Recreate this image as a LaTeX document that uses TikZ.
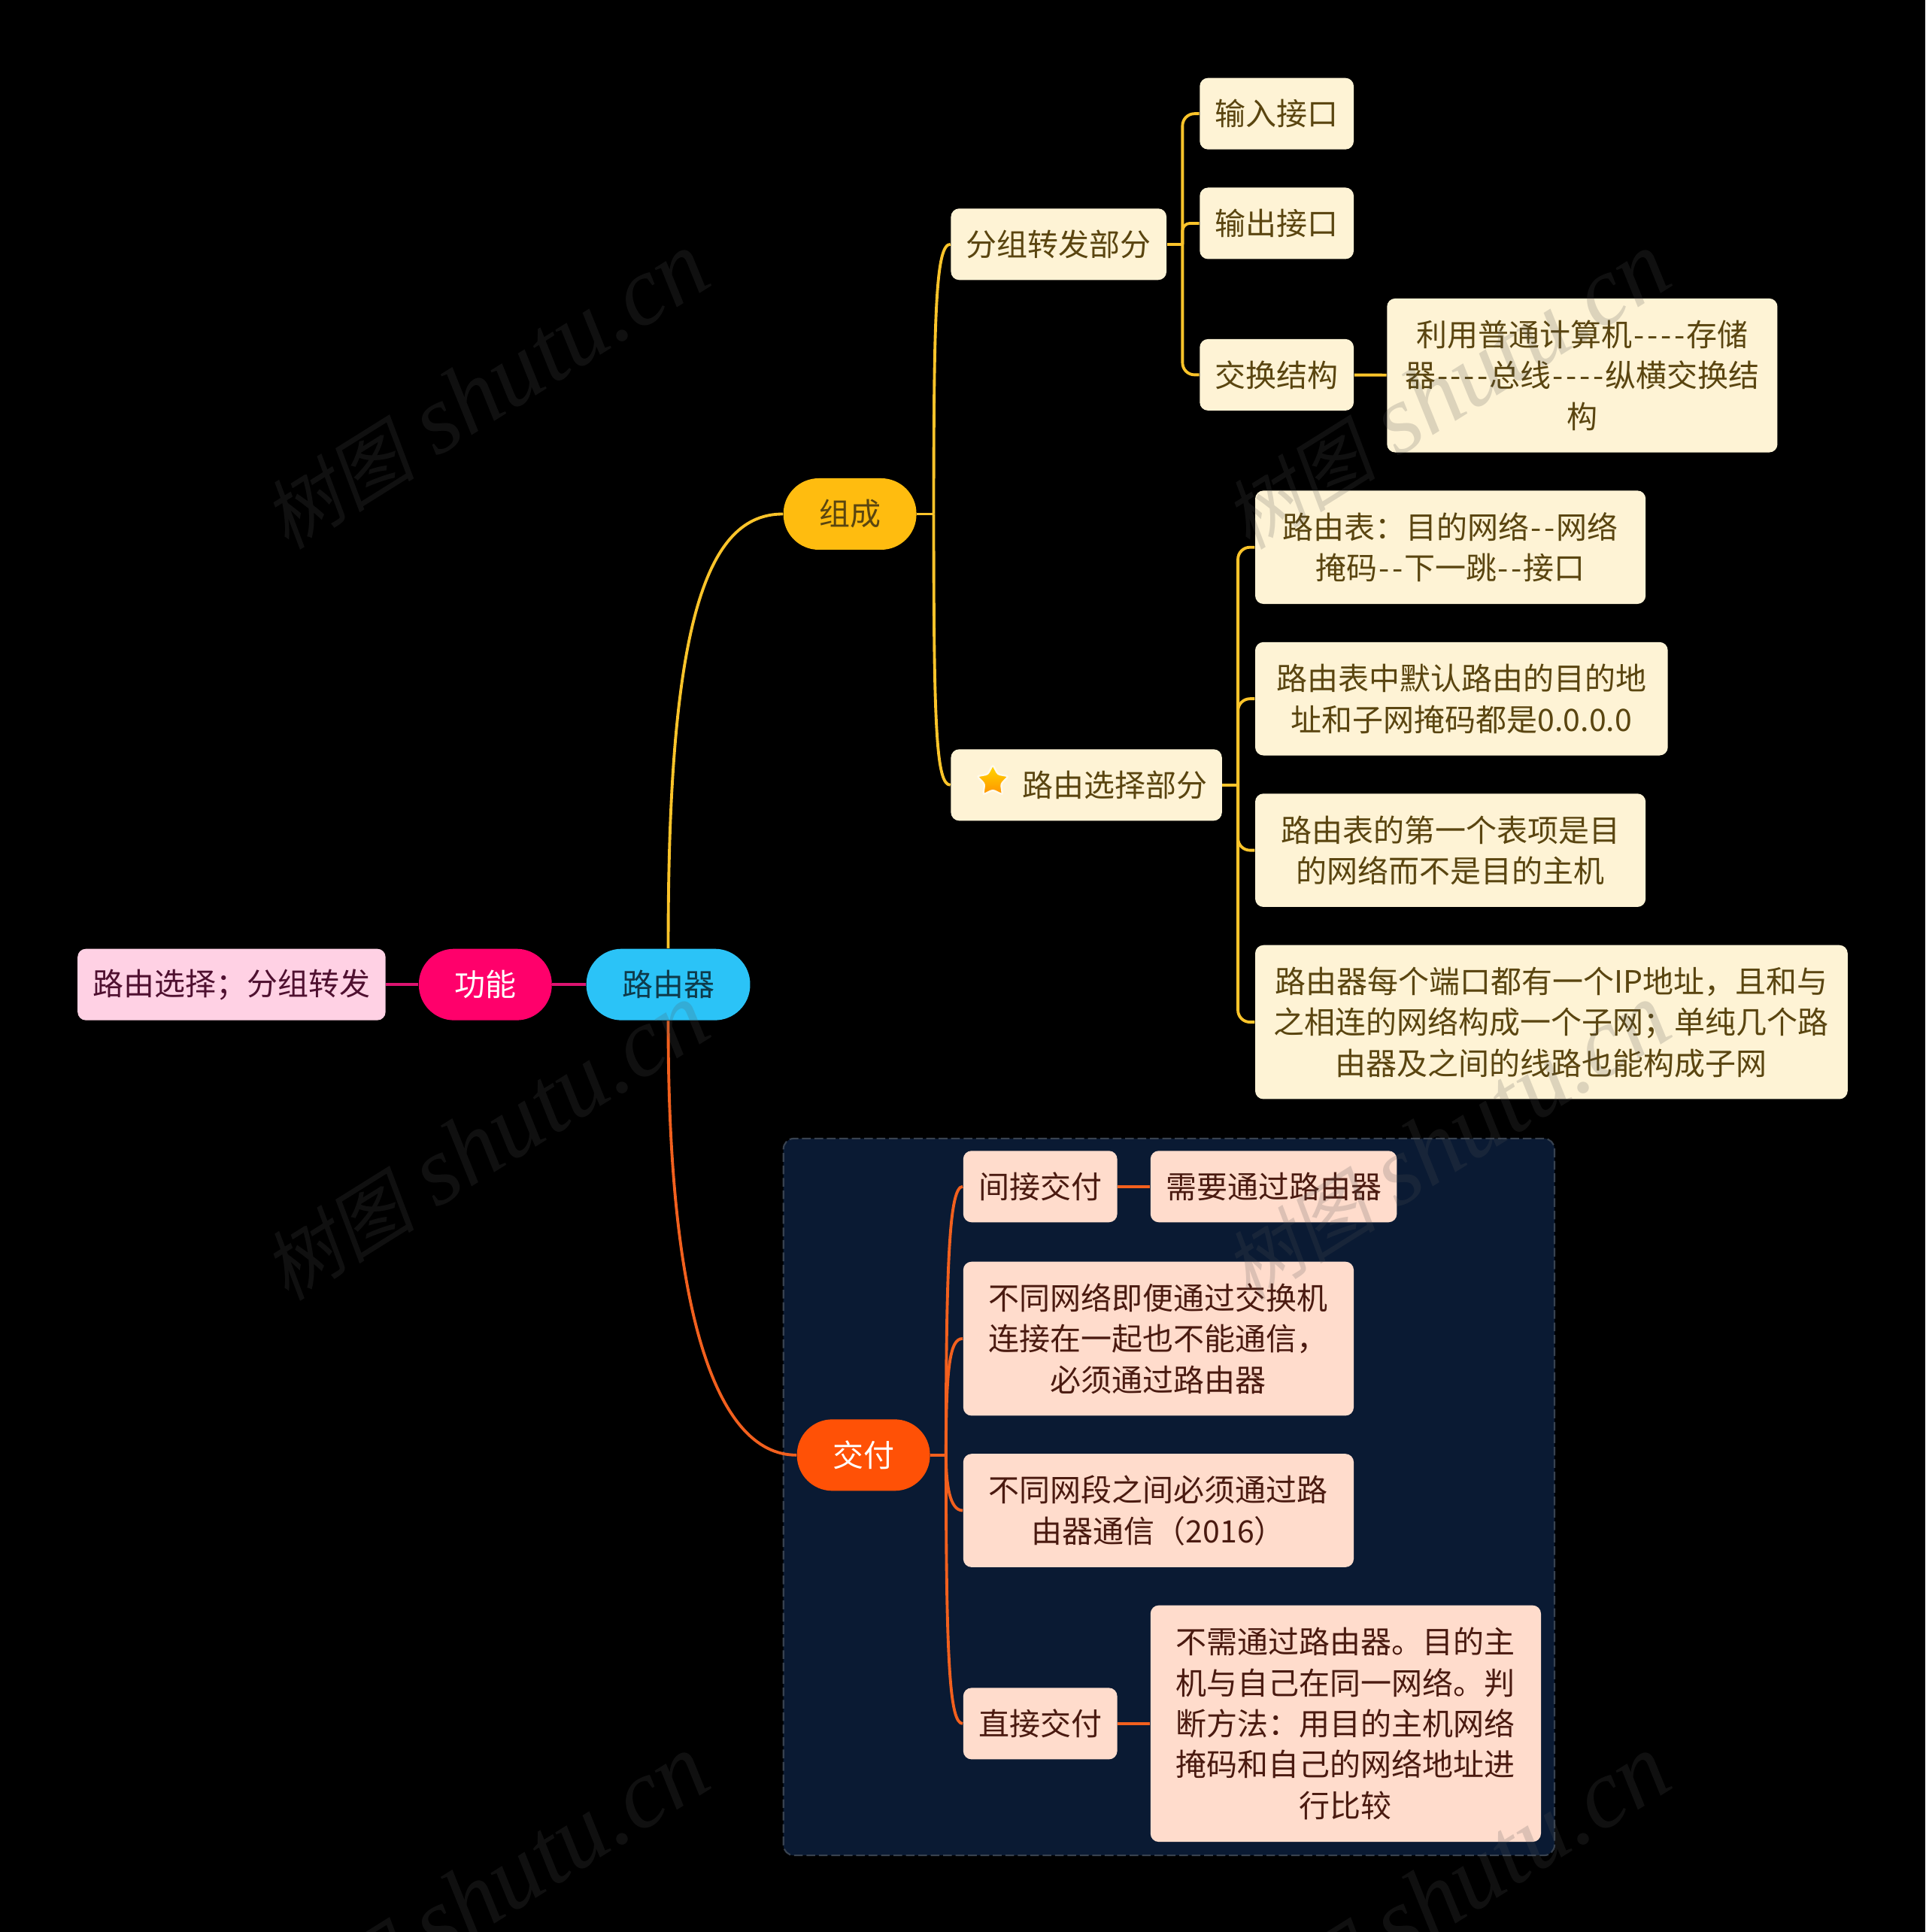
\documentclass[tikz,border=0pt]{standalone}
\usepackage{fontspec}
\setmainfont[Ligatures=TeXOff]{Noto Sans CJK SC}
\newfontfamily\markcjk[FakeSlant=0.2]{Noto Sans CJK SC}
\newfontfamily\marklatin{Liberation Serif}
\usetikzlibrary{shapes.geometric}
\definecolor{ycream}{HTML}{FEF3D5}
\definecolor{ytext}{HTML}{5A4510}
\definecolor{yline}{HTML}{FBC42A}
\definecolor{ypill}{HTML}{FFBC0F}
\definecolor{ppink}{HTML}{FFD1E4}
\definecolor{ptext}{HTML}{4F1030}
\definecolor{pline}{HTML}{DB1470}
\definecolor{ppill}{HTML}{FF006B}
\definecolor{bpill}{HTML}{2BC3F7}
\definecolor{btext}{HTML}{0E3A4A}
\definecolor{opeach}{HTML}{FFDCCC}
\definecolor{otext}{HTML}{4A1A10}
\definecolor{oline}{HTML}{F2601E}
\definecolor{opill}{HTML}{FF5106}
\definecolor{groupbg}{HTML}{0A1A33}
\definecolor{groupline}{HTML}{384250}
\newcommand{\shutumark}{{\fontsize{29}{29}\selectfont\markcjk 树图}\hspace{0.3cm}{\fontsize{37}{37}\selectfont\marklatin\itshape shutu.cn}}
\newcommand{\gang}{\kern0.045em-\kern0.045em}
\tikzset{
  size/.style 2 args={minimum width=#1*0.01638cm,minimum height=#2*0.01638cm},
  base/.style={inner sep=0pt,align=center,font=\fontsize{11.66}{15.5}\selectfont},
  cream/.style={base,rounded corners=1.1mm,fill=ycream,text=ytext},
  peach/.style={base,rounded corners=1.1mm,fill=opeach,text=otext},
  pill/.style={base,rounded corners=4.7mm},
  yl/.style={yline,line width=1.1pt,rounded corners=1.6mm},
  ol/.style={oline,line width=1.1pt,rounded corners=1.6mm},
  pl/.style={pline,line width=1.1pt},
  markup/.style={text=black!67,text opacity=0.2,rotate=32}
}
\begin{document}
\begin{tikzpicture}[x=0.01638cm,y=-0.01638cm]
    \useasboundingbox (0,-0.3) rectangle (1563,1568.2);
    \fill[black] (0,-0.3) rectangle (1563,1568.2);
    \node[size={626}{582},rounded corners=1.4mm,fill=groupbg,draw=groupline,dash pattern=on 3.3pt off 1.4pt,line width=0.6pt] (zuqun) at (949,1215) {};

    \node[base,rounded corners=1.1mm,fill=ppink,text=ptext,size={250}{58}] (xuanze) at (188,799) {路由选择；分组转发};
    \node[pill,fill=ppill,text=white,size={108}{58}] (gongneng) at (394,799) {功能};
    \node[pill,fill=bpill,text=btext,size={133}{58}] (luyouqi) at (542.5,799) {路由器};
    \node[pill,fill=ypill,text=ytext,size={108}{58}] (zucheng) at (690,417) {组成};
    \node[pill,fill=opill,text=white,size={108}{58}] (jiaofu) at (701,1181) {交付};

    \node[cream,size={175}{58}] (fenzu) at (859.5,198) {分组转发部分};
    \node[cream,size={125}{58}] (shuru) at (1036.5,92) {输入接口};
    \node[cream,size={125}{58}] (shuchu) at (1036.5,181) {输出接口};
    \node[cream,size={125}{58}] (jiaohuan) at (1036.5,304) {交换结构};
    \node[cream,size={317}{125}] (liyong) at (1284.5,304.5) {利用普通计算机\gang\gang\gang\gang 存储\\器\gang\gang\gang\gang 总线\gang\gang\gang\gang 纵横交换结\\构};
    \node[cream,minimum height=58*0.01638cm,text width=196*0.01638cm,align=right,inner xsep=12*0.01638cm] (xuanzebf) at (882,637) {路由选择部分};
    \node[star,star points=5,star point ratio=1.9,minimum size=0.44cm,inner sep=0pt,top color=yellow!70!orange,bottom color=orange!85!yellow,draw=ycream!50!white,line width=0.7pt,rounded corners=0.8pt] (xing) at (806,634) {};
    \node[cream,size={317}{92}] (biao) at (1177.5,444) {路由表：目的网络\gang\gang 网络\\掩码\gang\gang 下一跳\gang\gang 接口};
    \node[cream,size={335}{92}] (moren) at (1186.5,567) {路由表中默认路由的目的地\\址和子网掩码都是0.0.0.0};
    \node[cream,size={317}{92}] (diyige) at (1177.5,690) {路由表的第一个表项是目\\的网络而不是目的主机};
    \node[cream,size={481}{125}] (duankou) at (1259.5,829.5) {路由器每个端口都有一个IP地址，且和与\\之相连的网络构成一个子网；单纯几个路\\由器及之间的线路也能构成子网};

    \node[peach,size={125}{58}] (jianjie) at (844.5,963) {间接交付};
    \node[peach,size={200}{58}] (xuyao) at (1034,963) {需要通过路由器};
    \node[peach,size={317}{125}] (wangluo) at (940.5,1086.5) {不同网络即便通过交换机\\连接在一起也不能通信，\\必须通过路由器};
    \node[peach,size={317}{92}] (wangduan) at (940.5,1226) {不同网段之间必须通过路\\由器通信（2016）};
    \node[peach,size={125}{58}] (zhijie) at (844.5,1399) {直接交付};
    \node[peach,size={317}{192}] (buxu) at (1092.5,1399) {不需通过路由器。目的主\\机与自己在同一网络。判\\断方法：用目的主机网络\\掩码和自己的网络地址进\\行比较};

    \coordinate (zuchenghub) at (758,417);
    \coordinate (fenzuhub) at (960,198);
    \coordinate (xuanzehub) at (1005,637);
    \coordinate (jiaofuhub) at (768,1181);

    \draw[pl] (xuanze) -- (gongneng);
    \draw[pl] (gongneng) -- (luyouqi);
    \draw[yl] (luyouqi.north) .. controls (542,500) and (575,417) .. (zucheng.west);
    \draw[ol] (luyouqi.south) .. controls (542,1060) and (580,1181) .. (jiaofu.west);

    \draw[yl] (zucheng.east) -- (zuchenghub);
    \draw[yl] (zuchenghub) .. controls (758,250) and (760,198) .. (fenzu.west);
    \draw[yl] (zuchenghub) .. controls (758,590) and (760,637) .. (xuanzebf.west);
    \draw[yl] (fenzu.east) -- (fenzuhub);
    \draw[yl] (fenzuhub) |- (shuru.west);
    \draw[yl,rounded corners=1mm] (fenzuhub) |- (shuchu.west);
    \draw[yl] (fenzuhub) |- (jiaohuan.west);
    \draw[yl] (jiaohuan) -- (liyong);

    \draw[yl] (xuanzebf.east) -- (xuanzehub);
    \draw[yl] (xuanzehub) |- (biao.west);
    \draw[yl] (xuanzehub) |- (moren.west);
    \draw[yl] (xuanzehub) |- (diyige.west);
    \draw[yl] (xuanzehub) |- (duankou.west);

    \draw[ol] (jiaofu.east) -- (jiaofuhub);
    \draw[ol] (jiaofuhub) .. controls (768,1020) and (771,963) .. (jianjie.west);
    \draw[ol] (jiaofuhub) .. controls (768,1110) and (771,1086) .. (wangluo.west);
    \draw[ol] (jiaofuhub) .. controls (768,1205) and (771,1226) .. (wangduan.west);
    \draw[ol] (jiaofuhub) .. controls (768,1350) and (771,1399) .. (zhijie.west);
    \draw[ol] (jianjie) -- (xuyao);
    \draw[ol] (zhijie) -- (buxu);

    \node[markup] (marka) at (394,317) {\shutumark};
    \node[markup] (markb) at (1174,317) {\shutumark};
    \node[markup] (markc) at (394,927) {\shutumark};
    \node[markup] (markd) at (1174,927) {\shutumark};
    \node[markup] (marke) at (394,1537) {\shutumark};
    \node[markup] (markf) at (1174,1537) {\shutumark};
\end{tikzpicture}
\end{document}
